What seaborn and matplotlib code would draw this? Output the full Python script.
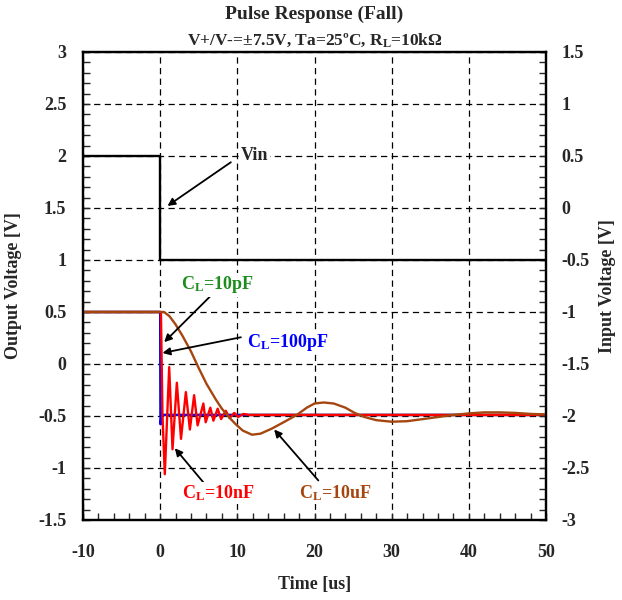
import matplotlib
matplotlib.use("Agg")
import matplotlib.pyplot as plt
from matplotlib.ticker import MultipleLocator, FormatStrFormatter
import seaborn as sns
import pandas as pd

# Input step (right axis, V)
vin_t = [-10, 0.0, 0.0, 50]
vin_v = [0.5, 0.5, -0.5, -0.5]

# Output, C_L = 10 pF
pf10_t = [-10, 0.0, 0.08, 0.2, 50]
pf10_v = [0.5, 0.5, -0.5, -0.49, -0.49]

# Output, C_L = 100 pF
pf100_t = [-10, 0.0, 0.05, 0.15, 0.4, 50]
pf100_v = [0.5, 0.5, -0.58, -0.5, -0.49, -0.49]

# Output, C_L = 10 nF (damped ringing, extrema)
nf10_t = [-10, 0.1, 0.3, 0.6, 1.17, 1.6, 2.16, 2.7, 3.33, 3.85, 4.4, 4.85,
          5.6, 5.9, 6.5, 6.9, 7.45, 7.9, 8.5, 9.0, 9.6, 10.1, 10.8, 11.5, 50]
nf10_v = [0.5, 0.5, -0.5, -1.06, -0.03, -0.82, -0.18, -0.72, -0.27, -0.63,
          -0.30, -0.59, -0.38, -0.56, -0.42, -0.545, -0.43, -0.53, -0.45,
          -0.52, -0.47, -0.51, -0.48, -0.49, -0.49]

# Output, C_L = 10 uF (slow, underdamped settling)
uf10_t = [-10, 0.0, 0.5, 1.2, 2.0, 2.9, 4.0, 5.0, 6.0, 7.2, 8.0, 8.9, 9.8,
          10.7, 11.9, 13.0, 14.5, 16.0, 17.7, 19.0, 20.0, 21.2, 22.5, 24.0,
          25.2, 26.5, 28.0, 30.0, 32.0, 34.0, 36.0, 38.0, 40.0, 42.0, 44.0,
          46.0, 48.0, 50.0]
uf10_v = [0.5, 0.5, 0.5, 0.46, 0.38, 0.27, 0.12, -0.04, -0.19, -0.34, -0.43,
          -0.51, -0.58, -0.64, -0.68, -0.67, -0.62, -0.56, -0.49, -0.42,
          -0.38, -0.37, -0.38, -0.42, -0.47, -0.51, -0.54, -0.555, -0.55,
          -0.53, -0.51, -0.49, -0.475, -0.465, -0.465, -0.47, -0.48, -0.485]

GREEN = "#1E8C1E"
BLUE = "#0000FF"
RED = "#FF0000"
BROWN = "#A5460F"

sns.set_theme(style="ticks")
plt.rcParams["font.family"] = ["Liberation Serif", "DejaVu Serif"]
plt.rcParams["font.weight"] = "bold"
plt.rcParams["axes.unicode_minus"] = False
plt.rcParams["mathtext.fontset"] = "custom"
plt.rcParams["mathtext.rm"] = "Liberation Serif:bold"
plt.rcParams["mathtext.bf"] = "Liberation Serif:bold"
plt.rcParams["mathtext.it"] = "Liberation Serif:bold"

fig = plt.figure(figsize=(6.22, 6.0), dpi=100)
ax = fig.add_axes([83 / 622, 1 - 520 / 600, 463 / 622, 468 / 600])
ax2 = ax.twinx()

def trace(axis, t, v, color, lw=1.7, z=2):
    df = pd.DataFrame({"t": t, "v": v})
    sns.lineplot(data=df, x="t", y="v", ax=axis, color=color, lw=lw,
                 estimator=None, sort=False, zorder=z)

trace(ax, pf10_t, pf10_v, GREEN, z=2)
trace(ax, pf100_t, pf100_v, BLUE, z=3)
trace(ax, nf10_t, nf10_v, RED, z=4)
trace(ax, uf10_t, uf10_v, BROWN, z=5)
trace(ax2, vin_t, vin_v, "black", lw=1.7)

ax.set_xlim(-10, 50)
ax.set_ylim(-1.5, 3)
ax2.set_ylim(-3, 1.5)

ax.xaxis.set_major_locator(MultipleLocator(10))
ax.xaxis.set_minor_locator(MultipleLocator(2))
ax.yaxis.set_major_locator(MultipleLocator(0.5))
ax.yaxis.set_minor_locator(MultipleLocator(0.1))
ax2.yaxis.set_major_locator(MultipleLocator(0.5))
ax2.yaxis.set_minor_locator(MultipleLocator(0.1))
for a in (ax, ax2):
    a.yaxis.set_major_formatter(FormatStrFormatter("%g"))
ax.xaxis.set_major_formatter(FormatStrFormatter("%g"))

ax.grid(True, which="major", color="black", lw=0.9, ls=(0, (5, 3.5)))
ax.set_axisbelow(True)

ax.tick_params(axis="x", which="both", direction="in", top=False,
               labelsize=13, pad=17, width=1.0, length=5)
ax.tick_params(axis="y", which="both", direction="in", labelsize=13,
               pad=12, width=1.0, length=5)
ax2.tick_params(axis="y", which="both", direction="in", labelsize=13,
                pad=11, width=1.0, length=5)
for a in (ax, ax2):
    for lab in a.get_xticklabels() + a.get_yticklabels():
        lab.set_fontweight("bold")
    for s in a.spines.values():
        s.set_linewidth(1.6)
        s.set_color("black")

ax.set_xlabel("Time [us]", fontsize=13, fontweight="bold")
ax.xaxis.set_label_coords(0.5, (520 - 585) / 468)
ax.xaxis.label.set_va("center")
ax.set_ylabel("Output Voltage [V]", fontsize=13, fontweight="bold")
ax.yaxis.set_label_coords((14 - 83) / 463, 0.5)
ax.yaxis.label.set_va("center")
ax2.set_ylabel("Input Voltage [V]", fontsize=13, fontweight="bold",
               rotation=90)
ax2.yaxis.set_label_coords((607 - 83) / 463, 0.5)
ax2.yaxis.label.set_va("center")

fig.text(314.5 / 622, 1 - 14 / 600, "Pulse Response (Fall)", ha="center",
         va="center", fontsize=14, fontweight="bold")
fig.text(314.5 / 622, 1 - 40 / 600,
         "V+/V-=\u00b17.5V, Ta=25\u00baC, R$_\\mathrm{L}$=10k\u03a9",
         ha="center", va="center", fontsize=12.5, fontweight="bold")

arrow = dict(arrowstyle="-|>", color="black", lw=1.3, mutation_scale=11,
             shrinkA=0, shrinkB=0)
box = dict(fc="white", ec="none", pad=1.0)

ax.annotate("", xy=(0.95, 1.52), xytext=(9.16, 1.94), arrowprops=arrow,
            zorder=6)
ax.text(10.46, 2.0, "Vin", ha="left", va="center", fontsize=13,
        fontweight="bold", bbox=box, zorder=7)

ax.annotate("", xy=(0.52, 0.21), xytext=(6.57, 0.657), arrowprops=arrow,
            zorder=6)
ax.text(2.72, 0.76, "C$_\\mathrm{L}$=10pF", ha="left", va="center",
        fontsize=13, fontweight="bold", color=GREEN, bbox=box, zorder=7)

ax.annotate("", xy=(0.3, 0.106), xytext=(10.46, 0.257), arrowprops=arrow,
            zorder=6)
ax.text(11.27, 0.21, "C$_\\mathrm{L}$=100pF", ha="left", va="center",
        fontsize=13, fontweight="bold", color=BLUE, bbox=box, zorder=7)

ax.annotate("", xy=(1.9, -0.81), xytext=(5.7, -1.147), arrowprops=arrow,
            zorder=6)
ax.text(2.85, -1.24, "C$_\\mathrm{L}$=10nF", ha="left", va="center",
        fontsize=13, fontweight="bold", color=RED, bbox=box, zorder=7)

ax.annotate("", xy=(14.77, -0.63), xytext=(20.5, -1.12), arrowprops=arrow,
            zorder=6)
ax.text(18.0, -1.24, "C$_\\mathrm{L}$=10uF", ha="left", va="center",
        fontsize=13, fontweight="bold", color=BROWN, bbox=box, zorder=7)

fig.savefig("out.png", dpi=100)
